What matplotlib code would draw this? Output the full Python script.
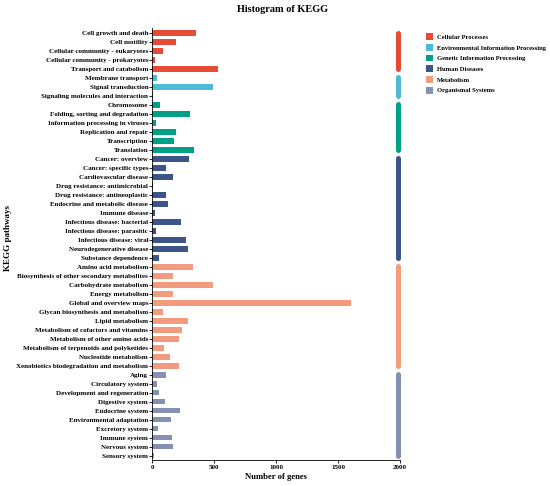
import matplotlib
matplotlib.use('Agg')
import matplotlib.pyplot as plt
from matplotlib.patches import Patch

plt.rcParams.update({
    "font.family": ["Liberation Serif", "DejaVu Serif"],
    "font.weight": "bold",
    "axes.labelweight": "bold",
})

groups = ["Cellular Processes", "Environmental Information Processing",
          "Genetic Information Processing", "Human Diseases",
          "Metabolism", "Organismal Systems"]
group_colors = ["#E64B35", "#4DBBD5", "#00A087", "#3C5488", "#F39B7F", "#8491B4"]

pathways = {
    "Cellular Processes": [
        ("Cell growth and death", 353), ("Cell motility", 188),
        ("Cellular community - eukaryotes", 88), ("Cellular community - prokaryotes", 20),
        ("Transport and catabolism", 529)],
    "Environmental Information Processing": [
        ("Membrane transport", 34), ("Signal transduction", 493),
        ("Signaling molecules and interaction", 2)],
    "Genetic Information Processing": [
        ("Chromosome", 58), ("Folding, sorting and degradation", 307),
        ("Information processing in viruses", 28), ("Replication and repair", 190),
        ("Transcription", 174), ("Translation", 337)],
    "Human Diseases": [
        ("Cancer: overview", 299), ("Cancer: specific types", 112),
        ("Cardiovascular disease", 169), ("Drug resistance: antimicrobial", 3),
        ("Drug resistance: antineoplastic", 112), ("Endocrine and metabolic disease", 126),
        ("Immune disease", 23), ("Infectious disease: bacterial", 234),
        ("Infectious disease: parasitic", 31), ("Infectious disease: viral", 274),
        ("Neurodegenerative disease", 285), ("Substance dependence", 53)],
    "Metabolism": [
        ("Amino acid metabolism", 328), ("Biosynthesis of other secondary metabolites", 164),
        ("Carbohydrate metabolism", 488), ("Energy metabolism", 166),
        ("Global and overview maps", 1602), ("Glycan biosynthesis and metabolism", 88),
        ("Lipid metabolism", 285), ("Metabolism of cofactors and vitamins", 242),
        ("Metabolism of other amino acids", 212), ("Metabolism of terpenoids and polyketides", 93),
        ("Nucleotide metabolism", 142), ("Xenobiotics biodegradation and metabolism", 212)],
    "Organismal Systems": [
        ("Aging", 107), ("Circulatory system", 39), ("Development and regeneration", 53),
        ("Digestive system", 104), ("Endocrine system", 226), ("Environmental adaptation", 148),
        ("Excretory system", 47), ("Immune system", 158), ("Nervous system", 164),
        ("Sensory system", 15)],
}

names, counts, colors, spans = [], [], [], []
for g, c in zip(groups, group_colors):
    start = len(names)
    for n, v in pathways[g]:
        names.append(n)
        counts.append(v)
        colors.append(c)
    spans.append((start, len(names) - 1, c))

fig = plt.figure(figsize=(5.5, 4.86), dpi=100)
ax = fig.add_axes([0.2771, 0.0535, 0.4502, 0.8879])

ypos = list(range(len(names)))
ax.barh(ypos, counts, height=0.65, color=colors)
ax.set_ylim(len(names) - 0.5, -0.5)
ax.set_xlim(0, 2000)
ax.set_xticks([0, 500, 1000, 1500, 2000])
ax.set_yticks(ypos)
ax.set_yticklabels(names, fontsize=5, fontweight='bold')
ax.tick_params(axis='x', labelsize=5, length=2, width=0.6, pad=1.5)
ax.tick_params(axis='y', length=2, width=0.6, pad=1)
for lab in ax.get_xticklabels():
    lab.set_fontweight('bold')
for s in ['top', 'right']:
    ax.spines[s].set_visible(False)
for s in ['left', 'bottom']:
    ax.spines[s].set_linewidth(0.6)

# group indicator bars on the right
for a, b, c in spans:
    ax.plot([1985, 1985], [a - 0.05, b + 0.05], color=c, lw=3.6,
            solid_capstyle='round', clip_on=False)

ax.set_xlabel("Number of genes", fontsize=6.2, fontweight='bold', labelpad=2)
fig.text(0.0145, 0.51, "KEGG pathways", rotation=90, ha='center', va='center',
         fontsize=6.5, fontweight='bold')
fig.text(0.5145, 0.980, "Histogram of KEGG", ha='center', va='center',
         fontsize=7.4, fontweight='bold')

handles = [Patch(facecolor=c, label=g) for g, c in zip(groups, group_colors)]
fig.legend(handles=handles, loc='upper left', bbox_to_anchor=(0.769, 0.937),
           frameon=False, prop={'size': 4.7, 'weight': 'bold'},
           handlelength=1.2, handleheight=1.2, handletextpad=0.5,
           labelspacing=0.62, borderaxespad=0)

fig.savefig("out.png", dpi=100, facecolor='white')
